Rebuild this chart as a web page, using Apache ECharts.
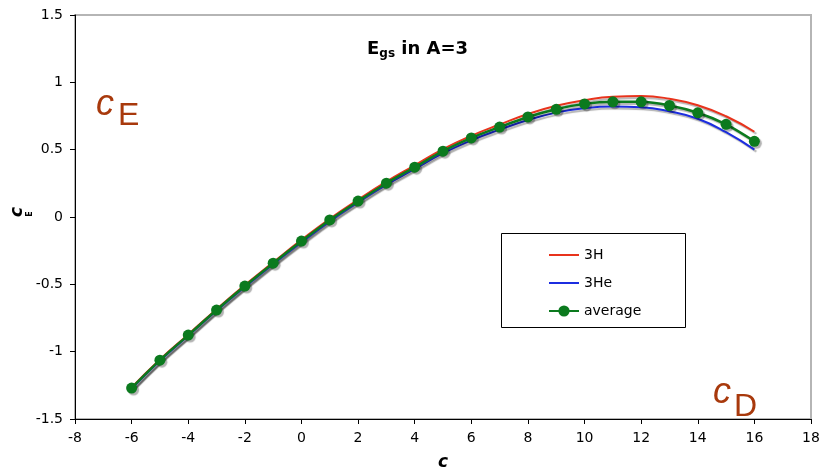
<!DOCTYPE html>
<html>
<head>
<meta charset="utf-8">
<script src="https://cdn.jsdelivr.net/npm/echarts@6/dist/echarts.min.js"></script>
<style>
  html, body { margin: 0; padding: 0; background: #fff; }
  #chart { width: 821px; height: 469px; }
</style>
</head>
<body>
<div id="chart"></div>
<script>
// cD values (x axis)
var cD = [-6, -5, -4, -3, -2, -1, 0, 1, 2, 3, 4, 5, 6, 7, 8, 9, 10, 11, 12, 13, 14, 15, 16];

var h3 = [-1.265, -1.058, -0.872, -0.685, -0.506, -0.336, -0.170, -0.013, 0.129, 0.263, 0.384, 0.504,
          0.603, 0.687, 0.765, 0.826, 0.868, 0.893, 0.898, 0.878, 0.830, 0.748, 0.633];
var he3 = [-1.275, -1.068, -0.882, -0.697, -0.520, -0.350, -0.188, -0.032, 0.108, 0.240, 0.357, 0.474,
           0.570, 0.649, 0.720, 0.775, 0.808, 0.820, 0.815, 0.785, 0.730, 0.630, 0.500];
var avg = [-1.270, -1.063, -0.877, -0.691, -0.513, -0.343, -0.179, -0.022, 0.118, 0.251, 0.370, 0.489,
           0.587, 0.668, 0.743, 0.800, 0.840, 0.855, 0.855, 0.828, 0.774, 0.688, 0.562];

var names = ['3H', '3He', 'average'];

function pairs(ys) {
  return cD.map(function (x, i) { return [x, ys[i]]; });
}

var shadow = { shadowColor: 'rgba(0,0,0,0.3)', shadowBlur: 1, shadowOffsetX: 2, shadowOffsetY: 2 };
var font = 'DejaVu Sans';
var brown = '#a8390c';

var chart = echarts.init(document.getElementById('chart'));

var option = {
  animation: false,
  textStyle: { fontFamily: font },
  title: {
    left: 362,
    top: 33,
    text: '{b|E}{s|gs}{b| in A=3}',
    textStyle: {
      rich: {
        b: { fontFamily: font, fontWeight: 'bold', fontSize: 18, color: '#000' },
        s: { fontFamily: font, fontWeight: 'bold', fontSize: 12, color: '#000', verticalAlign: 'bottom', padding: [10, 0, 0, 0] }
      }
    }
  },
  grid: {
    left: 75, right: 10, top: 15, bottom: 50,
    outerBoundsMode: 'none',
    show: true, borderColor: '#b5b5b5', borderWidth: 2
  },
  legend: {
    orient: 'vertical',
    left: 543, top: 243,
    itemWidth: 30, itemHeight: 14, itemGap: 14,
    data: [
      { name: names[0], itemStyle: { opacity: 0 } },
      { name: names[1], itemStyle: { opacity: 0 } },
      { name: names[2] }
    ],
    textStyle: { fontFamily: font, fontSize: 14, color: '#000' }
  },
  xAxis: {
    type: 'value', min: -8, max: 18, interval: 2,
    name: 'c', nameLocation: 'middle', nameGap: 35,
    nameTextStyle: { fontFamily: font, fontSize: 17, fontWeight: 'bold', fontStyle: 'italic', color: '#000' },
    axisLine: { onZero: false, lineStyle: { color: '#000' } },
    axisTick: { inside: false, length: 5, lineStyle: { color: '#000' } },
    axisLabel: { fontFamily: font, fontSize: 14, color: '#000', margin: 12 },
    splitLine: { show: false }
  },
  yAxis: {
    type: 'value', min: -1.5, max: 1.5, interval: 0.5,
    axisLine: { show: true, onZero: false, lineStyle: { color: '#000' } },
    axisTick: { show: true, inside: false, length: 5, lineStyle: { color: '#000' } },
    axisLabel: { fontFamily: font, fontSize: 14, color: '#000', margin: 12 },
    splitLine: { show: false }
  },
  graphic: [
    {
      type: 'rect', left: 501, top: 233, z: 0,
      shape: { width: 184, height: 94 },
      style: { fill: '#fff', stroke: '#000', lineWidth: 1 }
    },
    {
      type: 'text', x: 18, y: 212, rotation: Math.PI / 2,
      style: { text: 'c', fontFamily: font, fontSize: 17, fontWeight: 'bold', fontStyle: 'italic', fill: '#000', align: 'center', verticalAlign: 'middle' }
    },
    {
      type: 'text', x: 30, y: 214, rotation: Math.PI / 2,
      style: { text: 'E', fontFamily: font, fontSize: 8, fontWeight: 'bold', fill: '#000', align: 'center', verticalAlign: 'middle' }
    },
    {
      type: 'text', x: 96, y: 123,
      style: { text: 'c', fontFamily: 'Liberation Sans', fontSize: 36, fontStyle: 'italic', fill: brown, verticalAlign: 'bottom' }
    },
    {
      type: 'text', x: 118, y: 132,
      style: { text: 'E', fontFamily: 'Liberation Sans', fontSize: 32, fill: brown, verticalAlign: 'bottom' }
    },
    {
      type: 'text', x: 713, y: 411,
      style: { text: 'c', fontFamily: 'Liberation Sans', fontSize: 36, fontStyle: 'italic', fill: brown, verticalAlign: 'bottom' }
    },
    {
      type: 'text', x: 734, y: 423,
      style: { text: 'D', fontFamily: 'Liberation Sans', fontSize: 32, fill: brown, verticalAlign: 'bottom' }
    }
  ],
  series: [
    {
      name: names[0], type: 'line', smooth: true, symbol: 'none', z: 3,
      itemStyle: { color: '#e8331c' },
      lineStyle: Object.assign({ color: '#e8331c', width: 2 }, shadow),
      data: pairs(h3)
    },
    {
      name: names[1], type: 'line', smooth: true, symbol: 'none', z: 3,
      itemStyle: { color: '#1c2de0' },
      lineStyle: Object.assign({ color: '#1c2de0', width: 2 }, shadow),
      data: pairs(he3)
    },
    {
      name: names[2], type: 'line', smooth: 0.3, symbol: 'circle', symbolSize: 11, z: 4,
      itemStyle: Object.assign({ color: '#0b7a1e' }, shadow),
      lineStyle: Object.assign({ color: '#0b7a1e', width: 2.5 }, shadow),
      data: pairs(avg)
    }
  ]
};

chart.setOption(option);
</script>
</body>
</html>
